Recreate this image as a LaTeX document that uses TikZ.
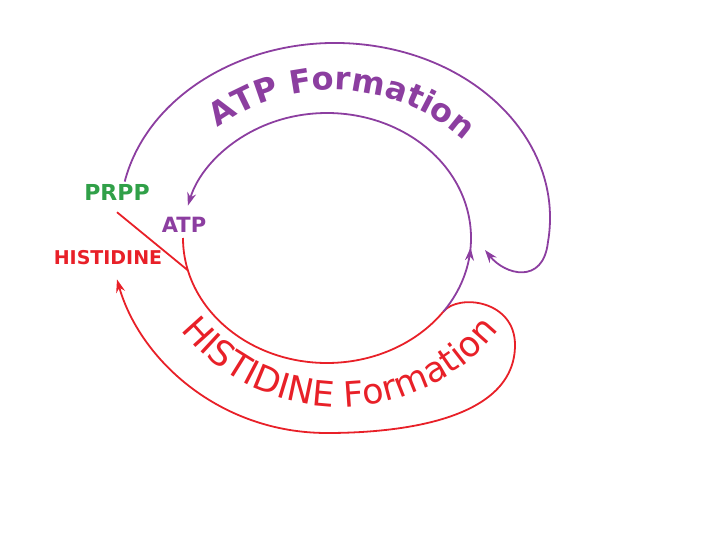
\documentclass[tikz,border=0pt]{standalone}
\usepackage{fontspec}
\setmainfont{DejaVu Sans}
\usetikzlibrary{arrows.meta,calc,decorations.text,decorations.markings}

\definecolor{atppurple}{RGB}{140,62,160}
\definecolor{hisred}{RGB}{232,32,40}
\definecolor{prppgreen}{RGB}{48,160,72}

\begin{document}
\begin{tikzpicture}[x=1pt,y=-1pt,
  flow/.style={line width=1.8pt},
  tip/.style={-{Stealth[length=13pt,width=9pt]}},
  lbl/.style={font=\fontsize{19}{19}\selectfont\bfseries,inner sep=0pt}]
  \useasboundingbox (0,0) rectangle (720,540);
  % labels
  \node[lbl,text=prppgreen,font=\fontsize{22}{22}\selectfont\bfseries] (prpp) at (117,192) {PRPP};
  \node[lbl,text=atppurple,font=\fontsize{21}{21}\selectfont\bfseries] (atp) at (184,225) {ATP};
  \node[lbl,text=hisred] (his) at (108,258) {HISTIDINE};
  % centres of the rings
  \coordinate (ring) at (327,238);
  \coordinate (outer) at (335,218);
  \coordinate (join) at ($(ring)+(36:144 and 125)$);
  \coordinate (merge) at ($(ring)+(165:144 and 125)$);
  \coordinate (atpend) at (485,250);
  \coordinate (hisend) at ($(his.south)+(9,14)$);

  % histidine formation
  \draw[flow,hisred] ([yshift=-12pt]prpp.south) -- (merge);
  \draw[flow,hisred,tip] ($(ring)+(180:144 and 125)$)
    arc[start angle=180,end angle=36,x radius=144,y radius=125]
    .. controls +(15,-18) and (515,300) .. (515,345)
    .. controls (515,420) and (400,433) .. (327,433)
    .. controls (220,433) and (140,360) .. (hisend);

  % atp formation
  \draw[flow,atppurple,tip,
    decoration={markings,mark=at position 0.15 with {\arrow{Stealth[length=13pt,width=9pt]}}},
    postaction={decorate}] (join)
    arc[start angle=36,end angle=-165,x radius=144,y radius=125];
  \draw[flow,atppurple,tip] ($(outer)+(-168:215 and 175)$)
    arc[start angle=-168,end angle=8,x radius=215,y radius=175]
    .. controls (543,285) and (505,275) .. (atpend);

  % curved titles
  \path[decorate,decoration={text along path,text align=center,text color=atppurple,
    text={|\fontsize{32}{32}\selectfont\bfseries|ATP Formation}}]
    ($(333,285)+(-128:195)$) arc[start angle=-128,end angle=-46,radius=195];
  \path[decorate,decoration={text along path,text align=center,text color=hisred,
    text={|\fontsize{35}{35}\selectfont|HISTIDINE Formation}}]
    ($(340,204)+(146:203)$) arc[start angle=146,end angle=34,radius=203];
\end{tikzpicture}
\end{document}
